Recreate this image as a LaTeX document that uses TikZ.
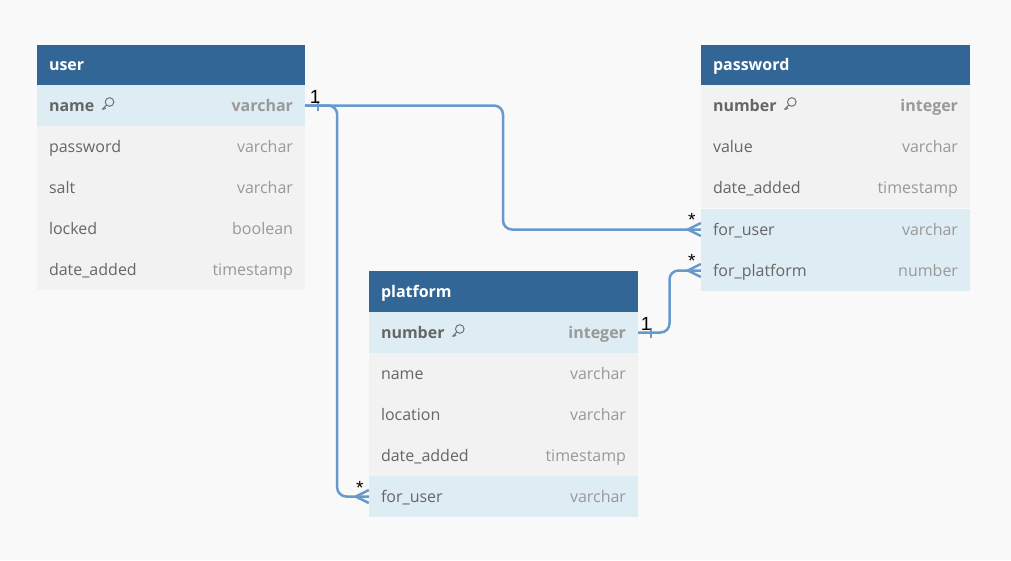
\documentclass[tikz,border=0pt]{standalone}
\usepackage{fontspec}
\setmainfont{Open Sans}
\newfontfamily\markfont{Liberation Sans}
\usetikzlibrary{calc}
\definecolor{bgcol}{RGB}{249,249,249}
\definecolor{headblue}{RGB}{50,102,150}
\definecolor{rowgray}{RGB}{242,242,242}
\definecolor{rowblue}{RGB}{222,236,244}
\definecolor{namegray}{RGB}{102,102,102}
\definecolor{typegray}{RGB}{153,153,153}
\definecolor{keygray}{RGB}{115,115,115}
\definecolor{linkblue}{RGB}{102,153,204}
\tikzset{keyicon/.pic={
  \draw[keygray, line width=1pt] (8,-8) circle (4.3);
  \draw[keygray, line width=1pt] (5,-5) -- (0.5,-0.5) (2.6,-2.6) -- (4.2,-1.2) (1.5,-1.5) -- (2.8,-0.4);
}}
\begin{document}
\begin{tikzpicture}[x=1pt, y=-1pt, font=\fontsize{16}{19}\selectfont]
\fill[bgcol] (0,0) rectangle (1011,560);
\useasboundingbox (0,0) rectangle (1011,560);
\tikzstyle{head}=[rectangle, fill=headblue, minimum width=268pt, minimum height=40pt, inner sep=0pt]
\tikzstyle{row}=[rectangle, fill=rowgray, minimum width=268pt, minimum height=41pt, inner sep=0pt]
\tikzstyle{hl}=[fill=rowblue]
\tikzstyle{title}=[anchor=base west, inner sep=0pt, text=white, font=\fontsize{16}{19}\selectfont\bfseries]
\tikzstyle{fname}=[anchor=base west, inner sep=0pt, text=namegray]
\tikzstyle{ftype}=[anchor=base east, inner sep=0pt, text=typegray]
\tikzstyle{pk}=[font=\fontsize{16}{19}\selectfont\bfseries]
\tikzstyle{link}=[draw=linkblue, line width=2.5pt, rounded corners=9pt]
\tikzstyle{cardmark}=[anchor=base, inner sep=0pt, font=\fontsize{19}{22}\selectfont\markfont]
% user
\node[head](u0) at (171,65) {};
\node[row,hl](u1) at (171,105.5) {};
\node[row](u2) at (171,146.5) {};
\node[row](u3) at (171,187.5) {};
\node[row](u4) at (171,228.5) {};
\node[row](u5) at (171,269.5) {};
\node[title](u0a) at ([xshift=12pt,yshift=-5.5pt]u0.west) {user};
\node[fname,pk](u1a) at ([xshift=12pt,yshift=-5.5pt]u1.west) {name};
\node[ftype,pk](u1b) at ([xshift=-12pt,yshift=-5.5pt]u1.east) {varchar};
\node[fname](u2a) at ([xshift=12pt,yshift=-5.5pt]u2.west) {password};
\node[ftype](u2b) at ([xshift=-12pt,yshift=-5.5pt]u2.east) {varchar};
\node[fname](u3a) at ([xshift=12pt,yshift=-5.5pt]u3.west) {salt};
\node[ftype](u3b) at ([xshift=-12pt,yshift=-5.5pt]u3.east) {varchar};
\node[fname](u4a) at ([xshift=12pt,yshift=-5.5pt]u4.west) {locked};
\node[ftype](u4b) at ([xshift=-12pt,yshift=-5.5pt]u4.east) {boolean};
\node[fname](u5a) at ([xshift=12pt,yshift=-5.5pt]u5.west) {date\_added};
\node[ftype](u5b) at ([xshift=-12pt,yshift=-5.5pt]u5.east) {timestamp};
\pic at ([xshift=7pt,yshift=1pt]u1a.base east) {keyicon};
% password
\node[head,minimum width=269pt](p0) at (835.5,65) {};
\node[row,minimum width=269pt](p1) at (835.5,105.5) {};
\node[row,minimum width=269pt](p2) at (835.5,146.5) {};
\node[row,minimum width=269pt](p3) at (835.5,187.5) {};
\node[row,hl,minimum width=269pt](p4) at (835.5,229.5) {};
\node[row,hl,minimum width=269pt](p5) at (835.5,270.5) {};
\node[title](p0a) at ([xshift=12pt,yshift=-5.5pt]p0.west) {password};
\node[fname,pk](p1a) at ([xshift=12pt,yshift=-5.5pt]p1.west) {number};
\node[ftype,pk](p1b) at ([xshift=-12pt,yshift=-5.5pt]p1.east) {integer};
\node[fname](p2a) at ([xshift=12pt,yshift=-5.5pt]p2.west) {value};
\node[ftype](p2b) at ([xshift=-12pt,yshift=-5.5pt]p2.east) {varchar};
\node[fname](p3a) at ([xshift=12pt,yshift=-5.5pt]p3.west) {date\_added};
\node[ftype](p3b) at ([xshift=-12pt,yshift=-5.5pt]p3.east) {timestamp};
\node[fname](p4a) at ([xshift=12pt,yshift=-5.5pt]p4.west) {for\_user};
\node[ftype](p4b) at ([xshift=-12pt,yshift=-5.5pt]p4.east) {varchar};
\node[fname](p5a) at ([xshift=12pt,yshift=-5.5pt]p5.west) {for\_platform};
\node[ftype](p5b) at ([xshift=-12pt,yshift=-5.5pt]p5.east) {number};
\pic at ([xshift=7pt,yshift=1pt]p1a.base east) {keyicon};
% platform
\node[head,minimum width=269pt,minimum height=41pt](l0) at (503.5,291.5) {};
\node[row,hl,minimum width=269pt](l1) at (503.5,332.5) {};
\node[row,minimum width=269pt](l2) at (503.5,373.5) {};
\node[row,minimum width=269pt](l3) at (503.5,414.5) {};
\node[row,minimum width=269pt](l4) at (503.5,455.5) {};
\node[row,hl,minimum width=269pt](l5) at (503.5,496.5) {};
\node[title](l0a) at ([xshift=12pt,yshift=-5.5pt]l0.west) {platform};
\node[fname,pk](l1a) at ([xshift=12pt,yshift=-5.5pt]l1.west) {number};
\node[ftype,pk](l1b) at ([xshift=-12pt,yshift=-5.5pt]l1.east) {integer};
\node[fname](l2a) at ([xshift=12pt,yshift=-5.5pt]l2.west) {name};
\node[ftype](l2b) at ([xshift=-12pt,yshift=-5.5pt]l2.east) {varchar};
\node[fname](l3a) at ([xshift=12pt,yshift=-5.5pt]l3.west) {location};
\node[ftype](l3b) at ([xshift=-12pt,yshift=-5.5pt]l3.east) {varchar};
\node[fname](l4a) at ([xshift=12pt,yshift=-5.5pt]l4.west) {date\_added};
\node[ftype](l4b) at ([xshift=-12pt,yshift=-5.5pt]l4.east) {timestamp};
\node[fname](l5a) at ([xshift=12pt,yshift=-5.5pt]l5.west) {for\_user};
\node[ftype](l5b) at ([xshift=-12pt,yshift=-5.5pt]l5.east) {varchar};
\pic at ([xshift=7pt,yshift=1pt]l1a.base east) {keyicon};
% links
\draw[link] (u1.east) -| ($(u1.east)!0.5!(p4.west)$) |- (p4.west);
\draw[link] (u1.east) -- ([xshift=32pt]u1.east) |- (l5.west);
\draw[link] (l1.east) -| ($(l1.east)!0.5!(p5.west)$) |- (p5.west);
% ends
\draw[link,rounded corners=0pt] ([xshift=13pt,yshift=5pt]u1.east) -- ([xshift=13pt,yshift=-5pt]u1.east);
\draw[link,rounded corners=0pt] ([xshift=13pt,yshift=5pt]l1.east) -- ([xshift=13pt,yshift=-5pt]l1.east);
\draw[link,rounded corners=0pt] ([yshift=6.5pt]p4.west) -- ([xshift=-13pt]p4.west) -- ([yshift=-6.5pt]p4.west);
\draw[link,rounded corners=0pt] ([yshift=6.5pt]p5.west) -- ([xshift=-13pt]p5.west) -- ([yshift=-6.5pt]p5.west);
\draw[link,rounded corners=0pt] ([yshift=6.5pt]l5.west) -- ([xshift=-13pt]l5.west) -- ([yshift=-6.5pt]l5.west);
\node[cardmark](m1) at ([xshift=10pt,yshift=2.5pt]u1.east) {1};
\node[cardmark](m2) at ([xshift=8pt,yshift=2.5pt]l1.east) {1};
\node[cardmark](m3) at ([xshift=-9pt,yshift=3pt]p4.west) {*};
\node[cardmark](m4) at ([xshift=-9pt,yshift=3pt]p5.west) {*};
\node[cardmark](m5) at ([xshift=-9pt,yshift=2pt]l5.west) {*};
\end{tikzpicture}
\end{document}
